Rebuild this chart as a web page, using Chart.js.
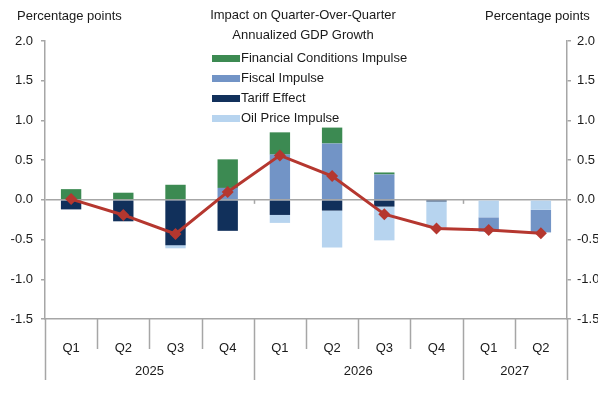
<!DOCTYPE html>
<html>
<head>
<meta charset="utf-8">
<script src="https://cdn.jsdelivr.net/npm/chart.js@4/dist/chart.umd.min.js"></script>
<style>
  html, body { margin: 0; padding: 0; background: #fff; }
  #wrap { position: relative; width: 598px; height: 403px; font-family: 'Liberation Sans', Arial, sans-serif; font-size: 13px; color: #1a1a1a; }
  #wrap canvas { position: absolute; left: 0; top: 0; }
  .unit { position: absolute; top: 8px; white-space: nowrap; }
  #legend { position: absolute; left: 212px; top: 5px; white-space: nowrap; }
  #legend .title { text-align: center; line-height: 19.5px; width: 200px; margin-left: -9px; margin-bottom: 3px; }
  #legend .row { display: flex; align-items: center; height: 20px; }
  #legend .sw { width: 28px; height: 7px; margin-right: 1px; margin-top: 2px; }
</style>
</head>
<body>
<div id="wrap">
  <canvas id="gdpChart" width="598" height="403"></canvas>
  <div class="unit" style="left:17px">Percentage points</div>
  <div class="unit" style="left:485px">Percentage points</div>
  <div id="legend"></div>
</div>
<script>
(function() {
    'use strict';

    // quarters along the axis, grouped by year underneath
    var quarters = ['Q1', 'Q2', 'Q3', 'Q4', 'Q1', 'Q2', 'Q3', 'Q4', 'Q1', 'Q2'];
    var years = ['2025', '2026', '2027'];
    var yearSpans = [4, 4, 2];

    // contributions, percentage points
    var financial = [0.135, 0.09, 0.19, 0.36, 0.28, 0.20, 0.025, 0, 0, 0];
    var fiscal    = [0, 0, 0, 0.15, 0.57, 0.71, 0.32, 0, -0.18, -0.285];
    var tariff    = [-0.12, -0.27, -0.57, -0.39, -0.19, -0.135, -0.085, -0.02, 0, 0];
    var oil       = [0, 0, -0.04, 0, -0.10, -0.465, -0.425, -0.33, -0.22, -0.125];
    var total     = [0.01, -0.19, -0.43, 0.10, 0.56, 0.30, -0.18, -0.36, -0.38, -0.42];

    var yTicks = [-1.5, -1.0, -0.5, 0.0, 0.5, 1.0, 1.5, 2.0];

    var AXIS = '#a6a6a6';
    var TEXT = '#1a1a1a';
    var C_FIN = '#3c8a52', C_FIS = '#7294c6', C_TAR = '#11305b', C_OIL = '#b7d4ef', C_LINE = '#b5372f';

    Chart.defaults.font.family = "'Liberation Sans', Arial, sans-serif";
    Chart.defaults.font.size = 13;
    Chart.defaults.color = TEXT;

    // legend, in the order the report lists it
    var legendItems = [
        ['Financial Conditions Impulse', C_FIN],
        ['Fiscal Impulse', C_FIS],
        ['Tariff Effect', C_TAR],
        ['Oil Price Impulse', C_OIL]
    ];
    var lg = document.getElementById('legend');
    var html = '<div class="title">Impact on Quarter-Over-Quarter<br>Annualized GDP Growth</div>';
    legendItems.forEach(function(it) {
        html += '<div class="row"><span class="sw" style="background:' + it[1] + '"></span>' + it[0] + '</div>';
    });
    lg.innerHTML = html;

    // quarter separators, year labels and year brackets under the axis
    var yearAxis = {
        id: 'yearAxis',
        afterDraw: function(chart) {
            var ctx = chart.ctx, x = chart.scales.x, y = chart.scales.y;
            var bottom = chart.chartArea.bottom;
            var step = (x.right - x.left) / quarters.length;
            var bounds = [0];
            yearSpans.forEach(function(s) { bounds.push(bounds[bounds.length - 1] + s); });

            ctx.save();
            ctx.strokeStyle = AXIS;
            ctx.lineWidth = 1.5;
            for (var i = 0; i <= quarters.length; i++) {
                var px = Math.round(x.left + i * step) + 0.5;
                var isYear = bounds.indexOf(i) >= 0;
                ctx.beginPath();
                ctx.moveTo(px, bottom);
                ctx.lineTo(px, bottom + (isYear ? 61 : 30));
                ctx.stroke();
                if (isYear && i > 0 && i < quarters.length) {
                    var zy = y.getPixelForValue(0);
                    ctx.beginPath();
                    ctx.moveTo(px, zy);
                    ctx.lineTo(px, zy + 4);
                    ctx.stroke();
                }
            }
            ctx.fillStyle = TEXT;
            ctx.font = "13px 'Liberation Sans', Arial, sans-serif";
            ctx.textAlign = 'center';
            ctx.textBaseline = 'middle';
            for (var k = 0; k < years.length; k++) {
                var cx = x.left + (bounds[k] + bounds[k + 1]) / 2 * step;
                ctx.fillText(years[k], cx, bottom + 52);
            }
            ctx.restore();
        }
    };

    function barSet(label, data, color) {
        return {
            type: 'bar', label: label, data: data, backgroundColor: color,
            borderWidth: 0, stack: 'parts', barPercentage: 0.39, categoryPercentage: 1
        };
    }

    function yAxis(pos, width, pad) {
        return {
            position: pos,
            stacked: true,
            min: -1.5, max: 2.0,
            afterBuildTicks: function(scale) { scale.ticks = yTicks.map(function(v) { return { value: v }; }); },
            afterFit: function(scale) { scale.width = width; },
            border: { display: true, color: AXIS, width: 1.5 },
            grid: {
                drawOnChartArea: pos === 'left',
                tickLength: 4,
                tickColor: AXIS,
                lineWidth: 1.5,
                color: function(c) { return c.tick && c.tick.value === 0 ? AXIS : 'rgba(0,0,0,0)'; }
            },
            ticks: {
                padding: pad,
                color: TEXT,
                callback: function(v) { return Number(v).toFixed(1); }
            }
        };
    }

    var y2 = yAxis('right', 31, 6);
    y2.grid.color = 'rgba(0,0,0,0)';

    new Chart(document.getElementById('gdpChart').getContext('2d'), {
        data: {
            labels: quarters,
            datasets: [
                // stacked so tariff and oil sit nearest zero below, fiscal under financial above
                barSet('Tariff Effect', tariff, C_TAR),
                barSet('Oil Price Impulse', oil, C_OIL),
                barSet('Fiscal Impulse', fiscal, C_FIS),
                barSet('Financial Conditions Impulse', financial, C_FIN),
                {
                    type: 'line', label: 'Total', data: total, stack: 'total', order: -1,
                    borderColor: C_LINE, backgroundColor: C_LINE, borderWidth: 3,
                    pointStyle: 'rectRot', pointRadius: 6, pointBackgroundColor: C_LINE,
                    pointBorderWidth: 0, tension: 0
                }
            ]
        },
        options: {
            responsive: false,
            animation: false,
            layout: { padding: { top: 41, left: 0, right: 0, bottom: 0 } },
            plugins: { legend: { display: false }, tooltip: { enabled: false } },
            scales: {
                x: {
                    stacked: true,
                    afterFit: function(scale) { scale.height = 84; },
                    border: { display: true, color: AXIS, width: 1.5 },
                    grid: { display: false },
                    ticks: { padding: 14, color: TEXT, maxRotation: 0, autoSkip: false }
                },
                y: yAxis('left', 45, 8),
                y2: y2
            }
        },
        plugins: [yearAxis]
    });
})();
</script>
</body>
</html>
